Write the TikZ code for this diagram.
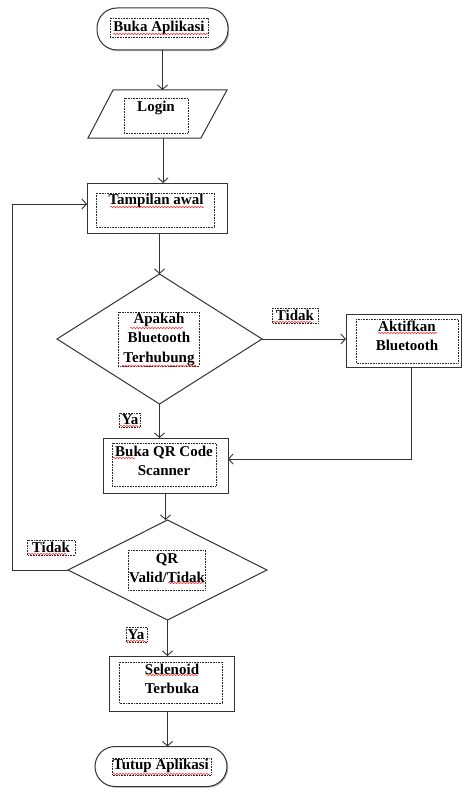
\documentclass[tikz,border=0pt]{standalone}
\usepackage{fontspec}
\setmainfont{Liberation Serif}
\usetikzlibrary{arrows.meta,shapes.geometric,shadows,calc,decorations.pathmorphing}
\begin{document}
\begin{tikzpicture}[x=1pt,y=-1pt,
  every node/.style={inner sep=0pt, outer sep=0pt},
  shp/.style={draw=black!80, line width=1pt, fill=white},
  shd/.style={drop shadow={shadow xshift=1.2pt, shadow yshift=-1.2pt, opacity=0.3, fill=black}},
  boxn/.style={shp, shd, rectangle},
  term/.style={shp, shd, rectangle, rounded corners=20pt},
  dec/.style={shp, diamond},
  arr/.style={draw=black!80, line width=0.9pt, -{Straight Barb[length=4.5pt,width=10pt]}},
  dotbox/.style={draw=black!85, densely dotted, line width=0.6pt},
  txt/.style={font=\fontsize{15}{19.5}\selectfont\bfseries, align=center, text=black},
  squig/.style={draw=red!85, line width=0.5pt, decorate, decoration={snake, segment length=3pt, amplitude=0.7pt}},
]
\useasboundingbox (0,0) rectangle (462,789);

% shapes
\node[term, minimum width=131, minimum height=42] (start) at (162.5,29) {};
\draw[shp] (113,90) -- (227,90) -- (201,138) -- (88,138) -- cycle;
\node[minimum width=100, minimum height=48] (login) at (163,114) {};
\node[boxn, minimum width=140, minimum height=50] (tampil) at (157,208) {};
\node[dec, minimum width=205, minimum height=130] (d1) at (159.5,339) {};
\node[boxn, minimum width=115, minimum height=53] (aktif) at (403.5,340.5) {};
\node[boxn, minimum width=125, minimum height=55] (qr) at (165.5,465.5) {};
\node[dec, minimum width=199, minimum height=100] (d2) at (167.5,570) {};
\node[boxn, minimum width=125, minimum height=55] (sel) at (171.5,683.5) {};
\node[term, minimum width=132, minimum height=40] (tutup) at (161,766.5) {};

% dotted text frames
\draw[dotbox] (110,18) rectangle (208,37);
\draw[dotbox] (124,98) rectangle (188,133);
\draw[dotbox] (96,193) rectangle (214,227);
\draw[dotbox] (118,312) rectangle (199,366);
\draw[dotbox] (272,308) rectangle (318,323);
\draw[dotbox] (356,319) rectangle (458,363);
\draw[dotbox] (119,413) rectangle (140,427);
\draw[dotbox] (112,443) rectangle (216,486);
\draw[dotbox] (27,540) rectangle (75,555);
\draw[dotbox] (128,550) rectangle (205,590);
\draw[dotbox] (126,627) rectangle (147,642);
\draw[dotbox] (119,662) rectangle (222,703);
\draw[dotbox] (112,758) rectangle (211,775);

% texts
\node[txt] (t1) at (159,27.5) {Buka Aplikasi};
\node[txt] (t2) at (156,108) {Login};
\node[txt] (t3) at (156,201) {Tampilan awal};
\node[txt] (t4) at (159,339) {Apakah\\Bluetooth\\Terhubung};
\node[txt] (l1) at (295,315.5) {Tidak};
\node[txt] (t5) at (407,336) {Aktifkan\\Bluetooth};
\node[txt] (l2) at (130,420) {Ya};
\node[txt] (t6) at (164,461) {Buka QR Code\\Scanner};
\node[txt] (l3) at (51,547.5) {Tidak};
\node[txt] (t7) at (167,568) {QR\\Valid/Tidak};
\node[txt] (l4) at (136,634.5) {Ya};
\node[txt] (t8) at (172,679) {Selenoid\\Terbuka};
\node[txt] (t9) at (161,766) {Tutup Aplikasi};

% spell-check underlines
\draw[squig] (113,34) -- (208,34);
\draw[squig] (110,207) -- (204,207);
\draw[squig] (130,328) -- (183,328);
\draw[squig] (122,366) -- (197,366);
\draw[squig] (273,322) -- (313,322);
\draw[squig] (378,333) -- (437,333);
\draw[squig] (120,426) -- (139,426);
\draw[squig] (113,458) -- (135,458);
\draw[squig] (28,554) -- (67,554);
\draw[squig] (168,583) -- (204,583);
\draw[squig] (127,641) -- (146,641);
\draw[squig] (146,675) -- (198,675);
\draw[squig] (113,774) -- (210,774);

% connectors
\coordinate (bend1) at (411,459);
\coordinate (back) at (12,204);
\draw[arr] (start.south) -- (start.south |- login.north);
\draw[arr] (login.south) -- (login.south |- tampil.north);
\draw[arr] (d1.north |- tampil.south) -- (d1.north);
\draw[arr] (d1.east) -- (d1.east -| aktif.west);
\draw[arr] (d1.south) -- (d1.south |- qr.north);
\draw[arr] (aktif.south -| bend1) -- (bend1) -- (bend1 -| qr.east);
\draw[arr] (qr.south) -- (qr.south |- d2.north);
\draw[arr] (d2.west) -- (d2.west -| back) -- (back) -- (back -| tampil.west);
\draw[arr] (d2.south) -- (d2.south |- sel.north);
\draw[arr] (d2.south |- sel.south) -- (d2.south |- tutup.north);
\end{tikzpicture}
\end{document}
